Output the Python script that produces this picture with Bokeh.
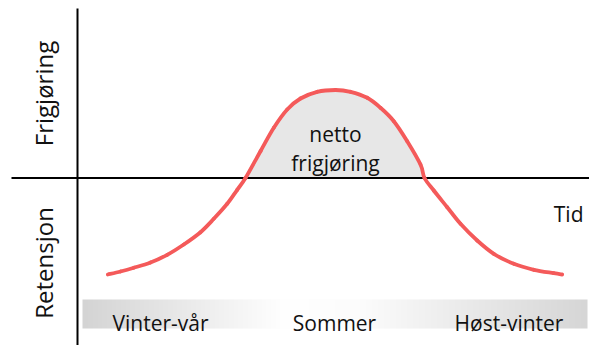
import numpy as np
from bokeh.plotting import figure
from bokeh.models import Range1d
from bokeh.core.properties import value
from bokeh.embed import file_html
from bokeh.resources import INLINE

# Conceptual curve (x: time, y: net release; 0 = balance)
curve_x = [30.3, 43, 56.3, 73, 89.7, 106.3, 123, 136.3, 149.7, 159.7, 168,
           183, 196.3, 209.7, 223, 239.7, 258, 273, 289.7, 303, 316.3, 329.7,
           343, 347, 356.3, 369.7, 383, 399.7, 416.3, 436.3, 456.3, 476.3, 484.7]
curve_y = [-96.5, -93.5, -89.8, -84.5, -76.8, -66.5, -54.2, -40.8, -25.8, -11.8, 0,
           26.8, 50.2, 68.5, 79.5, 86.2, 88, 86.2, 80.2, 70.2, 56.8, 36.8,
           13.5, 0, -12.5, -29.2, -45.8, -62.5, -75.8, -85.8, -91.8, -95.2, -96.5]

season_labels = ["Vinter-vår", "Sommer", "Høst-vinter"]
season_x = [83, 257, 431.5]
side_labels = ["Frigjøring", "Retensjon"]
side_label_y = [84.5, -85]
net_labels = ["netto", "frigjøring"]
net_label_y = [44.5, 15.5]
time_label = ["Tid"]

FONT = value("Open Sans")

X_MIN, X_MAX = -77, 512
Y_MIN, Y_MAX = -167.5, 177.5

p = figure(width=589, height=345,
           x_range=Range1d(X_MIN, X_MAX), y_range=Range1d(Y_MIN, Y_MAX),
           output_backend="svg", toolbar_location=None,
           x_axis_location=None, y_axis_location=None, min_border=0)
p.grid.visible = False
p.outline_line_color = None
p.background_fill_color = "white"

# season band with grey-white-grey gradient
N = 505
t = np.linspace(0, 1, N)
g = np.interp(t, [0, 0.40, 0.55, 1.0], [212, 255, 252, 214]).astype(np.uint8)
img = np.empty((1, N), dtype=np.uint32)
view = img.view(dtype=np.uint8).reshape((1, N, 4))
view[0, :, 0] = g
view[0, :, 1] = g
view[0, :, 2] = g
view[0, :, 3] = 255
p.image_rgba(image=[img], x=5, y=-150.5, dw=505, dh=29)

# net release area
cx = np.array(curve_x, dtype=float)
cy = np.array(curve_y, dtype=float)
mask = cy >= 0
p.varea(x=cx[mask], y1=0, y2=cy[mask], fill_color="#e7e7e7")

# axes lines (time axis and release/retention axis)
p.segment(x0=[X_MIN + 11, 0], y0=[0, Y_MIN], x1=[X_MAX, 0], y1=[0, Y_MAX - 8],
          line_color="black", line_width=2)

# curve drawn as smooth Bezier segments through the read points (Catmull-Rom tangents)
px = np.concatenate([[cx[0]], cx, [cx[-1]]])
py = np.concatenate([[cy[0]], cy, [cy[-1]]])
x0 = px[1:-2]; y0 = py[1:-2]
x1 = px[2:-1]; y1 = py[2:-1]
cx0 = x0 + (px[2:-1] - px[0:-3]) / 6.0
cy0 = y0 + (py[2:-1] - py[0:-3]) / 6.0
cx1 = x1 - (px[3:] - px[1:-2]) / 6.0
cy1 = y1 - (py[3:] - py[1:-2]) / 6.0
p.bezier(x0=x0, y0=y0, x1=x1, y1=y1, cx0=cx0, cy0=cy0, cx1=cx1, cy1=cy1,
         line_color="#f45a5a", line_width=3.8, line_cap="round")

# texts
p.text(x=season_x, y=[-144.8] * 3, text=season_labels, text_font=FONT,
       text_font_size="21px", text_align="center", text_baseline="alphabetic", text_color="#111111")
p.text(x=[258, 258], y=net_label_y, text=net_labels, text_font=FONT,
       text_font_size="21px", text_align="center", text_baseline="alphabetic", text_color="#111111")
p.text(x=[506], y=[-35.5], text=time_label, text_font=FONT,
       text_font_size="21px", text_align="right", text_baseline="alphabetic", text_color="#111111")
p.text(x=[-34, -34], y=side_label_y, text=side_labels, angle=np.pi / 2, text_font=FONT,
       text_font_size="24px", text_align="center", text_baseline="alphabetic", text_color="#111111")

open("out.html", "w").write(file_html(p, INLINE))
